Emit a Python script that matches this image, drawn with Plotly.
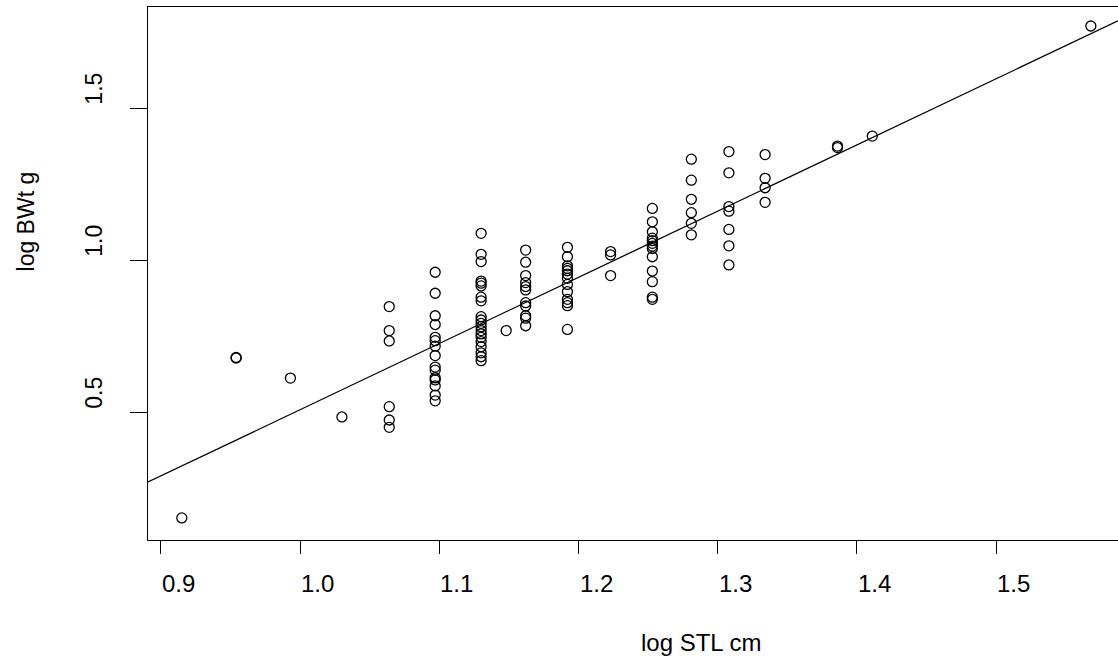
import plotly.graph_objects as go

# ---- data (log10 standard length vs log10 body weight) ----
log_stl = (
    [0.915]
    + [0.954, 0.954]
    + [0.993]
    + [1.030]
    + [1.064] * 6
    + [1.097] * 15
    + [1.130] * 20
    + [1.148]
    + [1.162] * 11
    + [1.192] * 13
    + [1.223] * 3
    + [1.253] * 13
    + [1.281] * 6
    + [1.308] * 7
    + [1.334] * 4
    + [1.386, 1.386]
    + [1.411]
    + [1.568]
)
log_bwt = (
    [0.154]
    + [0.680, 0.682]
    + [0.614]
    + [0.486]
    + [0.849, 0.770, 0.736, 0.520, 0.476, 0.452]
    + [0.962, 0.893, 0.819, 0.790, 0.748, 0.737, 0.719, 0.688, 0.650, 0.640,
       0.615, 0.608, 0.588, 0.558, 0.539]
    + [1.090, 1.021, 0.997, 0.933, 0.926, 0.917, 0.880, 0.868, 0.816, 0.805,
       0.794, 0.783, 0.770, 0.759, 0.748, 0.734, 0.717, 0.697, 0.684, 0.671]
    + [0.770]
    + [1.035, 0.995, 0.951, 0.928, 0.915, 0.904, 0.862, 0.851, 0.819, 0.811, 0.786]
    + [1.044, 1.013, 0.983, 0.975, 0.967, 0.956, 0.942, 0.922, 0.898, 0.873,
       0.862, 0.852, 0.774]
    + [1.030, 1.019, 0.951]
    + [1.172, 1.128, 1.095, 1.074, 1.066, 1.057, 1.048, 1.040, 1.013, 0.966,
       0.931, 0.880, 0.873]
    + [1.334, 1.265, 1.202, 1.158, 1.123, 1.085]
    + [1.359, 1.289, 1.178, 1.163, 1.103, 1.049, 0.986]
    + [1.349, 1.271, 1.240, 1.192]
    + [1.372, 1.377]
    + [1.410]
    + [1.772]
)

# fitted regression line: log BWt = intercept + slope * log STL
fit_intercept = -1.667
fit_slope = 2.177

x_tick_vals = [0.9, 1.0, 1.1, 1.2, 1.3, 1.4, 1.5]
x_tick_text = ["0.9", "1.0", "1.1", "1.2", "1.3", "1.4", "1.5"]
y_tick_vals = [0.5, 1.0, 1.5]
y_tick_text = ["0.5", "1.0", "1.5"]

x_title = "log STL cm"
y_title = "log BWt g"

x_range = [0.8907, 1.5875]
y_range = [0.0813, 1.8345]

FONT = "Liberation Sans, Arial, sans-serif"

fig = go.Figure()

fig.add_trace(go.Scatter(
    x=log_stl, y=log_bwt, mode="markers",
    marker=dict(symbol="circle-open", size=10, color="black",
                line=dict(color="black", width=1.3)),
    showlegend=False, hoverinfo="x+y",
))

line_x = [x_range[0], x_range[1]]
line_y = [fit_intercept + fit_slope * v for v in line_x]
fig.add_trace(go.Scatter(
    x=line_x, y=line_y, mode="lines",
    line=dict(color="black", width=1.3),
    showlegend=False, hoverinfo="skip",
))

annotations = []
# x tick labels (start at the tick, as in the reference)
for v, t in zip(x_tick_vals, x_tick_text):
    annotations.append(dict(
        x=v, y=-0.0807, xref="x", yref="paper", text=t, showarrow=False,
        xanchor="left", yanchor="middle", xshift=-1,
        font=dict(family=FONT, size=24, color="black"),
    ))
# y tick labels (rotated, start at the tick)
for v, t in zip(y_tick_vals, y_tick_text):
    annotations.append(dict(
        x=-0.0557, y=v, xref="paper", yref="y", text=t, showarrow=False,
        textangle=-90, xanchor="center", yanchor="bottom", yshift=2,
        font=dict(family=FONT, size=23, color="black"),
    ))
# axis titles
annotations.append(dict(
    x=0.506, y=-0.193, xref="paper", yref="paper", text=x_title,
    showarrow=False, xanchor="left", yanchor="middle",
    font=dict(family=FONT, size=24, color="black"),
))
annotations.append(dict(
    x=-0.1258, y=0.5, xref="paper", yref="paper", text=y_title,
    showarrow=False, textangle=-90, xanchor="center", yanchor="bottom",
    font=dict(family=FONT, size=23, color="black"),
))

fig.update_layout(
    width=1118, height=657,
    margin=dict(l=148, r=0, t=7, b=117),
    paper_bgcolor="white", plot_bgcolor="white",
    font=dict(family=FONT, color="black"),
    showlegend=False,
    annotations=annotations,
    xaxis=dict(
        range=x_range, tickvals=x_tick_vals, showticklabels=False,
        ticks="outside", ticklen=13, tickwidth=1.3, tickcolor="black",
        showline=True, linecolor="black", linewidth=1.3, mirror=True,
        showgrid=False, zeroline=False,
    ),
    yaxis=dict(
        range=y_range, tickvals=y_tick_vals, showticklabels=False,
        ticks="outside", ticklen=17, tickwidth=1.3, tickcolor="black",
        showline=True, linecolor="black", linewidth=1.3, mirror=False,
        showgrid=False, zeroline=False,
    ),
)

fig.write_html("out.html")
